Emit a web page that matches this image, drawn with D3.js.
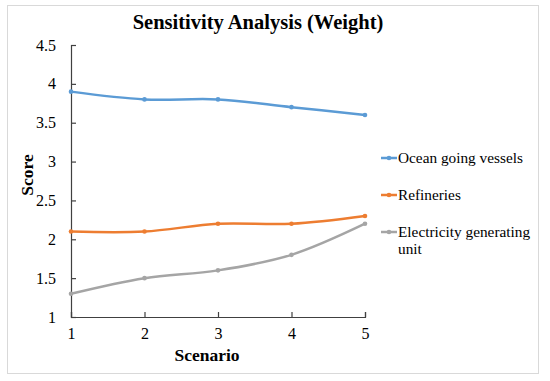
<!DOCTYPE html>
<html>
<head>
<meta charset="utf-8">
<script src="https://cdn.jsdelivr.net/npm/d3@7"></script>
<style>
  body { margin: 0; background: #fff; }
  text { font-family: "Liberation Serif", "Times New Roman", serif; fill: #000; }
</style>
</head>
<body>
<div id="chart"></div>
<script>
// data
const scenarios = [1, 2, 3, 4, 5];
const seriesNames = ["Ocean going vessels", "Refineries", "Electricity generating unit"];
const oceanVessels = [3.9, 3.8, 3.8, 3.7, 3.6];
const refineries = [2.1, 2.1, 2.2, 2.2, 2.3];
const electricityUnit = [1.3, 1.5, 1.6, 1.8, 2.2];
const yTicks = [1, 1.5, 2, 2.5, 3, 3.5, 4, 4.5];

const COLORS = ["#5B9BD5", "#ED7D31", "#A5A5A5"];

const W = 550, H = 381;
const plot = {left: 71, right: 365, top: 45, bottom: 317};

const svg = d3.select("#chart").append("svg")
  .attr("width", W)
  .attr("height", H);

// chart frame
svg.append("rect")
  .attr("x", 7.5).attr("y", 5.5)
  .attr("width", 531).attr("height", 368)
  .attr("fill", "#fff")
  .attr("stroke", "#d9d9d9");

const x = d3.scaleLinear().domain([1, 5]).range([plot.left, plot.right]);
const y = d3.scaleLinear().domain([1, 4.5]).range([plot.bottom, plot.top]);

// x axis, ticks pointing inward
const xAxis = svg.append("g")
  .attr("transform", `translate(0,${plot.bottom})`)
  .call(d3.axisBottom(x).tickValues(scenarios).tickSize(-5).tickPadding(11).tickFormat(d3.format("d")));

// y axis
const yAxis = svg.append("g")
  .attr("transform", `translate(${plot.left},0)`)
  .call(d3.axisLeft(y).tickValues(yTicks).tickSize(-5).tickPadding(15).tickFormat(d => d));

[xAxis, yAxis].forEach(function(g) {
  g.select(".domain").attr("stroke", "#404040").attr("stroke-width", 1.2);
  g.selectAll(".tick line").attr("stroke", "#404040").attr("stroke-width", 1.2);
  g.selectAll(".tick text")
    .style("font-family", "'Liberation Serif', serif")
    .style("font-size", "16px")
    .attr("fill", "#000");
});

// title and axis labels
svg.append("text")
  .attr("x", 258).attr("y", 29)
  .attr("text-anchor", "middle")
  .style("font-size", "20.5px")
  .style("font-weight", "bold")
  .text("Sensitivity Analysis (Weight)");

svg.append("text")
  .attr("x", 207).attr("y", 361)
  .attr("text-anchor", "middle")
  .style("font-size", "17.5px")
  .style("font-weight", "bold")
  .text("Scenario");

svg.append("text")
  .attr("transform", "translate(33,175) rotate(-90)")
  .attr("text-anchor", "middle")
  .style("font-size", "17.5px")
  .style("font-weight", "bold")
  .text("Score");

// lines
const allSeries = [oceanVessels, refineries, electricityUnit];
const line = d3.line()
  .x((d, i) => x(scenarios[i]))
  .y(d => y(d))
  .curve(d3.curveCatmullRom);

allSeries.forEach(function(values, s) {
  svg.append("path")
    .datum(values)
    .attr("fill", "none")
    .attr("stroke", COLORS[s])
    .attr("stroke-width", 2.5)
    .attr("stroke-linecap", "round")
    .attr("d", line);

  svg.selectAll(null)
    .data(values)
    .enter().append("circle")
    .attr("cx", (d, i) => x(scenarios[i]))
    .attr("cy", d => y(d))
    .attr("r", 2.3)
    .attr("fill", COLORS[s]);
});

// legend
const legendY = [158, 195, 232];
const legend = svg.append("g");
seriesNames.forEach(function(name, i) {
  legend.append("line")
    .attr("x1", 381).attr("x2", 397)
    .attr("y1", legendY[i]).attr("y2", legendY[i])
    .attr("stroke", COLORS[i]).attr("stroke-width", 2.5);
  legend.append("circle")
    .attr("cx", 389).attr("cy", legendY[i]).attr("r", 2.3)
    .attr("fill", COLORS[i]);
});
const fs = "15.3px";
legend.append("text").attr("x", 398).attr("y", legendY[0] + 5).style("font-size", fs).text("Ocean going vessels");
legend.append("text").attr("x", 398).attr("y", legendY[1] + 5).style("font-size", fs).text("Refineries");
const elec = legend.append("text").attr("x", 398).attr("y", legendY[2] + 5).style("font-size", fs);
elec.append("tspan").text("Electricity generating");
elec.append("tspan").attr("x", 398).attr("dy", 17).text("unit");
</script>
</body>
</html>
